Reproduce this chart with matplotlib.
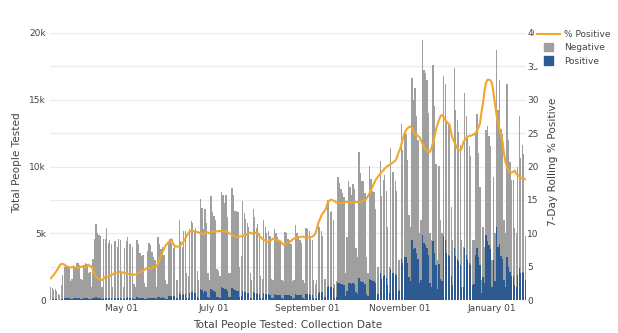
import numpy as np
import pandas as pd
import matplotlib
matplotlib.use("Agg")
import matplotlib.pyplot as plt
import matplotlib.dates as mdates
from matplotlib.lines import Line2D
from matplotlib.patches import Patch, Rectangle
from matplotlib.legend_handler import HandlerPatch

# collection dates, one row of values per week (Sun..Sat)
dates = pd.date_range("2020-03-15", "2021-01-23", freq="D")

# people tested per day, thousands
total_k = [
    0.95, 0.90, 0.75, 0.80, 0.70, 0.45, 0.35,
    1.10, 1.90, 2.50, 2.60, 2.50, 2.40, 1.40,
    1.60, 2.60, 2.50, 2.75, 2.80, 2.60, 1.60,
    1.50, 2.60, 2.80, 2.70, 2.00, 2.10, 1.00,
    3.10, 4.60, 5.70, 5.00, 4.90, 4.80, 1.00,
    4.60, 4.60, 5.40, 4.30, 4.50, 4.20, 1.00,
    4.40, 4.40, 4.00, 4.60, 4.50, 2.20, 1.00,
    3.90, 4.40, 4.70, 4.20, 4.20, 4.00, 1.20,
    1.00, 4.50, 4.20, 3.50, 3.30, 3.40, 1.30,
    1.00, 3.70, 4.30, 4.10, 3.60, 3.20, 3.00,
    1.00, 4.70, 4.20, 3.80, 4.00, 3.40, 1.50,
    1.20, 4.20, 4.60, 4.30, 3.90, 4.20, 1.50,
    1.50, 6.00, 4.40, 4.00, 5.20, 5.20, 2.00,
    1.80, 5.30, 5.90, 5.80, 5.20, 5.40, 2.20,
    1.50, 7.60, 6.90, 5.30, 6.80, 5.80, 2.00,
    1.50, 7.80, 6.60, 6.30, 6.00, 2.30, 2.20,
    1.80, 8.10, 7.90, 7.30, 7.90, 6.20, 2.00,
    2.00, 8.40, 7.90, 6.70, 6.70, 6.60, 2.50,
    3.30, 7.40, 6.50, 6.10, 5.80, 5.50, 2.00,
    1.50, 6.80, 6.20, 5.40, 5.70, 5.00, 1.80,
    1.60, 6.00, 5.50, 5.00, 5.20, 4.80, 1.60,
    1.50, 5.30, 5.00, 4.70, 4.50, 4.40, 1.50,
    1.40, 5.10, 5.00, 4.60, 4.50, 4.20, 1.40,
    1.50, 5.60, 5.00, 4.80, 4.50, 4.30, 1.50,
    1.30, 5.40, 5.30, 5.20, 4.60, 4.50, 1.50,
    1.20, 1.50, 5.70, 5.50, 5.20, 4.80, 1.60,
    1.60, 7.50, 7.40, 6.60, 6.70, 6.00, 1.20,
    1.40, 9.20, 8.80, 8.30, 8.00, 7.70, 2.00,
    4.70, 8.90, 8.50, 7.90, 8.70, 8.30, 3.90,
    3.20, 11.10, 9.50, 8.90, 8.90, 8.00, 3.20,
    2.00, 10.00, 9.10, 8.20, 8.10, 6.80, 2.50,
    2.50, 10.40, 7.80, 9.00, 9.40, 8.20, 5.50,
    2.50, 11.40, 9.60, 9.60, 8.90, 8.20, 3.00,
    3.00, 13.20, 11.20, 12.50, 12.40, 10.50, 6.40,
    5.50, 16.60, 15.00, 15.90, 13.80, 12.00, 5.00,
    6.00, 19.50, 17.20, 17.00, 16.50, 14.00, 5.00,
    4.50, 17.60, 14.50, 10.20, 3.00, 10.00, 6.00,
    5.00, 16.80, 16.20, 13.30, 13.20, 13.00, 7.00,
    4.50, 17.40, 14.20, 13.50, 12.60, 11.60, 4.50,
    4.00, 15.50, 13.80, 12.30, 11.50, 10.80, 4.50,
    4.50, 12.50, 13.90, 11.00, 8.50, 1.50, 5.50,
    4.00, 12.70, 13.00, 12.30, 11.50, 3.00, 9.20,
    5.00, 18.70, 14.20, 16.50, 12.80, 12.40, 6.00,
    5.00, 16.20, 12.00, 10.30, 9.00, 9.00, 5.40,
    5.00, 10.00, 13.80, 10.60, 11.60, 10.90, 4.80,
]

# positive results per day, thousands
positive_k = [
    0.03, 0.04, 0.04, 0.04, 0.04, 0.02, 0.02,
    0.05, 0.10, 0.13, 0.14, 0.13, 0.12, 0.07,
    0.08, 0.13, 0.12, 0.14, 0.14, 0.13, 0.08,
    0.08, 0.13, 0.14, 0.14, 0.10, 0.11, 0.05,
    0.12, 0.17, 0.20, 0.17, 0.17, 0.16, 0.04,
    0.15, 0.15, 0.18, 0.14, 0.15, 0.14, 0.03,
    0.16, 0.16, 0.15, 0.17, 0.17, 0.08, 0.04,
    0.15, 0.18, 0.19, 0.17, 0.17, 0.16, 0.05,
    0.04, 0.20, 0.18, 0.15, 0.14, 0.15, 0.06,
    0.04, 0.16, 0.18, 0.18, 0.16, 0.14, 0.13,
    0.05, 0.22, 0.20, 0.18, 0.19, 0.17, 0.08,
    0.08, 0.30, 0.33, 0.32, 0.30, 0.33, 0.12,
    0.13, 0.50, 0.38, 0.35, 0.45, 0.45, 0.17,
    0.18, 0.52, 0.60, 0.58, 0.53, 0.55, 0.22,
    0.15, 0.80, 0.72, 0.55, 0.70, 0.60, 0.20,
    0.15, 0.85, 0.72, 0.66, 0.63, 0.25, 0.23,
    0.18, 0.95, 0.88, 0.80, 0.85, 0.66, 0.20,
    0.20, 0.90, 0.85, 0.72, 0.70, 0.68, 0.26,
    0.30, 0.70, 0.62, 0.58, 0.55, 0.52, 0.18,
    0.13, 0.60, 0.55, 0.48, 0.50, 0.44, 0.16,
    0.13, 0.50, 0.46, 0.42, 0.44, 0.40, 0.13,
    0.12, 0.42, 0.40, 0.37, 0.36, 0.35, 0.12,
    0.11, 0.40, 0.38, 0.35, 0.34, 0.32, 0.11,
    0.12, 0.45, 0.40, 0.38, 0.36, 0.34, 0.12,
    0.10, 0.45, 0.44, 0.43, 0.38, 0.37, 0.12,
    0.10, 0.13, 0.55, 0.58, 0.60, 0.60, 0.22,
    0.25, 1.00, 1.05, 0.98, 1.00, 0.90, 0.18,
    0.20, 1.30, 1.28, 1.22, 1.18, 1.14, 0.30,
    0.70, 1.30, 1.25, 1.18, 1.28, 1.23, 0.58,
    0.48, 1.65, 1.42, 1.33, 1.33, 1.20, 0.48,
    0.32, 1.60, 1.50, 1.40, 1.42, 1.25, 0.45,
    0.48, 2.00, 1.55, 1.80, 1.90, 1.68, 1.15,
    0.52, 2.30, 2.00, 2.05, 1.95, 1.85, 0.70,
    0.75, 3.10, 2.80, 3.20, 3.20, 2.75, 1.70,
    1.40, 4.50, 3.80, 3.90, 3.50, 3.10, 1.30,
    1.50, 4.90, 4.30, 4.10, 3.90, 3.40, 1.25,
    1.00, 4.40, 3.50, 2.60, 0.80, 2.70, 1.60,
    1.40, 4.80, 4.50, 3.50, 3.40, 3.30, 1.80,
    1.10, 3.90, 3.30, 3.10, 2.90, 2.60, 1.00,
    0.95, 3.90, 3.40, 3.00, 2.80, 2.60, 1.10,
    1.20, 3.40, 3.90, 3.20, 2.60, 0.50, 1.70,
    1.30, 4.90, 4.40, 4.10, 3.80, 1.00, 3.00,
    1.40, 5.50, 4.00, 4.20, 3.30, 3.10, 1.50,
    1.00, 3.20, 2.50, 2.10, 1.80, 1.80, 1.10,
    0.95, 1.90, 2.40, 2.00, 2.10, 2.00, 1.50,
]

# 7-day rolling share of positive tests, percent
pct_positive = [
    3.25, 3.5, 3.8, 4.1, 4.4, 4.8, 5.2,
    5.4, 5.4, 5.3, 5.1, 5.0, 4.9, 4.9,
    4.9, 4.9, 4.9, 4.85, 4.9, 4.9, 5.0,
    5.0, 4.9, 4.9, 5.1, 5.3, 5.0, 5.1,
    4.4, 3.8, 3.5, 3.3, 3.1, 3.05, 3.0,
    3.2, 3.5, 3.5, 3.5, 3.6, 3.7, 3.85,
    4.0, 4.1, 4.15, 4.2, 4.2, 4.15, 4.1,
    4.05, 4.0, 3.9, 3.85, 3.8, 3.8, 3.8,
    3.8, 3.9, 4.0, 4.2, 4.3, 4.4, 4.5,
    4.7, 4.8, 4.75, 4.7, 4.8, 5.0, 5.0,
    5.0, 5.5, 6.1, 6.6, 7.2, 7.7, 8.2,
    8.4, 8.7, 8.9, 9.1, 8.4, 8.1, 8.0,
    8.0, 8.05, 8.2, 8.5, 8.8, 9.2, 9.6,
    10.0, 10.3, 10.3, 10.35, 10.3, 10.2, 10.2,
    10.1, 10.0, 9.9, 9.85, 10.0, 10.2, 10.1,
    10.0, 10.1, 10.3, 10.3, 10.2, 10.3, 10.3,
    10.35, 10.3, 10.3, 10.3, 10.3, 10.2, 10.0,
    9.9, 9.75, 9.6, 9.5, 9.4, 9.45, 9.5,
    9.55, 9.6, 9.65, 9.7, 9.85, 10.0, 10.1,
    10.0, 9.9, 10.0, 10.1, 10.0, 9.6, 9.4,
    9.2, 9.0, 8.9, 8.7, 8.75, 8.9, 9.0,
    9.2, 9.1, 9.0, 9.0, 8.9, 8.8, 8.5,
    8.3, 8.4, 8.55, 8.6, 8.65, 8.8, 9.1,
    9.2, 9.3, 9.35, 9.4, 9.45, 9.5, 9.5,
    9.4, 9.3, 9.35, 9.4, 9.4, 9.5, 9.6,
    9.9, 10.6, 11.5, 12.0, 12.6, 13.0, 13.3,
    13.6, 14.4, 14.8, 15.0, 15.0, 14.9, 14.8,
    14.6, 14.6, 14.5, 14.5, 14.5, 14.6, 14.7,
    14.7, 14.7, 14.6, 14.6, 14.6, 14.6, 14.7,
    14.7, 14.7, 14.7, 14.8, 14.9, 15.0, 15.2,
    15.6, 16.0, 16.5, 17.0, 17.5, 18.0, 18.3,
    18.6, 18.9, 19.2, 19.4, 19.7, 19.9, 20.1,
    20.2, 20.4, 20.5, 20.7, 20.9, 21.3, 22.0,
    22.5, 23.3, 24.2, 24.9, 25.4, 25.7, 25.9,
    26.0, 25.8, 25.2, 24.8, 24.7, 24.6, 24.4,
    23.9, 23.4, 22.9, 22.5, 22.3, 22.2, 22.2,
    22.8, 23.6, 24.5, 25.6, 26.3, 27.0, 27.6,
    27.7, 27.4, 27.0, 26.7, 26.5, 26.2, 25.0,
    24.2, 23.7, 23.2, 22.7, 22.5, 22.4, 22.7,
    23.6, 24.0, 24.3, 24.5, 24.6, 24.6, 24.7,
    24.8, 25.0, 25.3, 25.8, 26.4, 28.1, 29.4,
    31.3, 32.5, 33.0, 33.0, 32.9, 32.5, 31.0,
    29.3, 27.7, 26.7, 25.5, 24.8, 23.7, 21.8,
    20.6, 19.9, 19.3, 19.1, 19.1, 19.2, 19.4,
    18.9, 18.8, 18.5, 18.4, 18.2, 18.2, 18.1,
]

date_ticks = pd.to_datetime(["2020-05-01", "2020-07-01", "2020-09-01",
                             "2020-11-01", "2021-01-01"])

BLUE = "#2d5a91"
GRAY = "#9f9f9f"
ORANGE = "#f2a62a"
TEXT = "#444444"

total = np.array(total_k)
positive = np.array(positive_k)
negative = total - positive

fig = plt.figure(figsize=(6.18, 3.33), dpi=100)
ax = fig.add_axes([50 / 618, 33 / 333, 476 / 618, 267 / 333])

ax.bar(dates, positive, width=0.85, color=BLUE, linewidth=0)
ax.bar(dates, negative, bottom=positive, width=0.85, color=GRAY, linewidth=0)

ax.set_xlim(dates[0] - pd.Timedelta(hours=12), dates[-1] + pd.Timedelta(hours=12))
ax.set_ylim(0, 20)
ax.set_yticks([0, 5, 10, 15, 20])
ax.set_yticklabels(["0", "5k", "10k", "15k", "20k"])
ax.set_yticks(np.arange(0, 20.1, 2.5), minor=True)
ax.grid(axis="y", which="both", color="#ebebeb", linewidth=0.9)
ax.set_axisbelow(True)
ax.set_xticks(date_ticks)
ax.xaxis.set_major_formatter(mdates.DateFormatter("%B %d"))
ax.tick_params(axis="both", which="both", length=0, labelsize=6.5,
               labelcolor=TEXT)
ax.tick_params(axis="y", pad=3)
ax.tick_params(axis="x", pad=3)
for s in ax.spines.values():
    s.set_visible(False)

ax2 = ax.twinx()
ax2.plot(dates, pct_positive, color=ORANGE, linewidth=1.5)
ax2.set_ylim(0, 40)
ax2.set_yticks(np.arange(0, 41, 5))
ax2.tick_params(axis="y", length=0, labelsize=6.5, labelcolor=TEXT, pad=1)
for s in ax2.spines.values():
    s.set_visible(False)

fig.text(17 / 618, 1 - 163 / 333, "Total People Tested", rotation=90,
         ha="center", va="center", fontsize=7.6, color=TEXT)
fig.text(553 / 618, 1 - 162 / 333, "7-Day Rolling % Positive", rotation=90,
         ha="center", va="center", fontsize=7.6, color=TEXT)
fig.text(288 / 618, 1 - 325 / 333, "Total People Tested: Collection Date",
         ha="center", va="center", fontsize=7.6, color=TEXT)


def square_patch(legend, orig_handle, xdescent, ydescent, width, height, fontsize):
    s = height * 1.4
    return Rectangle((-xdescent + (width - s) / 2, -ydescent + (height - s) / 2), s, s)


handles = [Line2D([], [], color=ORANGE, linewidth=1.5),
           Patch(color=GRAY), Patch(color=BLUE)]
leg = ax2.legend(handles, ["% Positive", "Negative", "Positive"],
                 loc="upper left", bbox_to_anchor=(534 / 618, 1 - 27 / 333),
                 bbox_transform=fig.transFigure, fontsize=6.5,
                 handlelength=2.6, handletextpad=0.45, labelspacing=0.5,
                 borderpad=0.3, borderaxespad=0, frameon=True,
                 fancybox=False, framealpha=1,
                 handler_map={Patch: HandlerPatch(patch_func=square_patch)})
leg.get_frame().set_facecolor("white")
leg.get_frame().set_edgecolor("none")
for t in leg.get_texts():
    t.set_color(TEXT)

fig.savefig("out.png", dpi=100)
